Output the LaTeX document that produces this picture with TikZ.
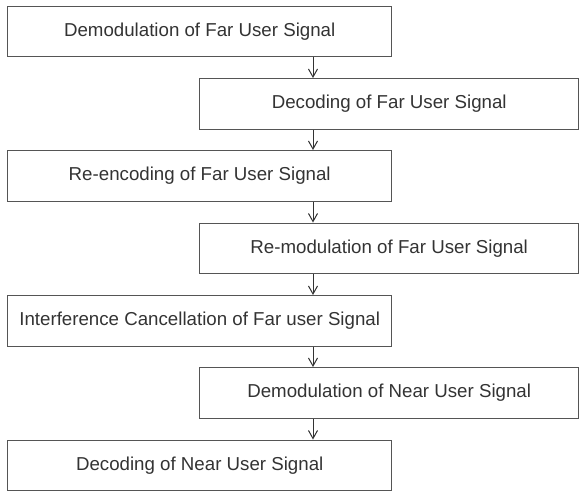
\documentclass[tikz,border=0pt]{standalone}
\usepackage{fontspec}
\setmainfont{Liberation Sans}
\usetikzlibrary{arrows.meta}
\definecolor{boxline}{HTML}{555555}
\definecolor{txt}{HTML}{333333}
\tikzset{
  stepbox/.style={draw=boxline, line width=1.4pt, rectangle, minimum height=50.5pt,
    inner sep=0pt, font=\fontsize{18.7}{21}\selectfont, text=txt, anchor=north west},
  leftbox/.style={stepbox, minimum width=384pt},
  rightbox/.style={stepbox, minimum width=379pt},
  arr/.style={draw=txt, line width=1pt, -{Straight Barb[length=8pt,width=9pt,line width=1pt]}}
}
\begin{document}
\begin{tikzpicture}[x=1pt,y=1pt]
\useasboundingbox (0,0) rectangle (579,-491);
\node[leftbox]  (b1) at (7,-5.5)  {Demodulation of Far User Signal};
\node[rightbox] (b2) at (199,-78) {Decoding of Far User Signal};
\node[leftbox]  (b3) at (7,-150)  {Re-encoding of Far User Signal};
\node[rightbox] (b4) at (199,-222.5) {Re-modulation of Far User Signal};
\node[leftbox]  (b5) at (7,-295)  {Interference Cancellation of Far user Signal};
\node[rightbox] (b6) at (199,-367) {Demodulation of Near User Signal};
\node[leftbox]  (b7) at (7,-439.5) {Decoding of Near User Signal};
\coordinate (ax) at (313,0);
\draw[arr] (b1.south -| ax) -- (b2.north -| ax);
\draw[arr] (b2.south -| ax) -- (b3.north -| ax);
\draw[arr] (b3.south -| ax) -- (b4.north -| ax);
\draw[arr] (b4.south -| ax) -- (b5.north -| ax);
\draw[arr] (b5.south -| ax) -- (b6.north -| ax);
\draw[arr] (b6.south -| ax) -- (b7.north -| ax);
\end{tikzpicture}
\end{document}
